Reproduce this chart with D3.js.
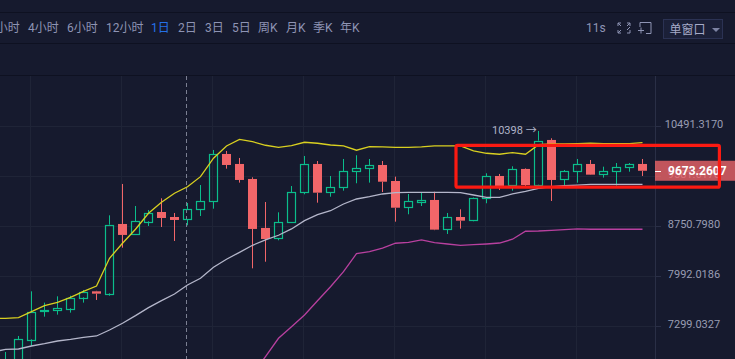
<!DOCTYPE html>
<html>
<head>
<meta charset="utf-8">
<script src="https://cdn.jsdelivr.net/npm/d3@7"></script>
<style>
  html, body { margin: 0; padding: 0; background: #161a2e; overflow: hidden; }
  svg { display: block; font-family: Roboto, "Noto Sans CJK SC", sans-serif; }
</style>
</head>
<body>
<div id="chart-area"></div>
<script>
// Toolbar labels
let tabLabels = ["1小时", "4小时", "6小时", "12小时", "1日", "2日", "3日", "5日", "周K", "月K", "季K", "年K"]
let activeTab = "1日"
let countdownLabel = "11s"
let windowLabel = "单窗口"

// Price axis
let priceTicks = [10491.3170, 9581.6170, 8750.7980, 7992.0186, 7299.0327]
let lastPrice = 9673.2607
let highPrice = 10398
let highLabel = "10398 →"

// Daily candles, the first one sits just off the left edge
let opens = [6700, 6714, 6850, 7125, 7494, 7511, 7538, 7689, 7773, 7745, 8783, 8621, 8826, 8976, 8895, 8858, 9020, 9145, 9972, 9793, 9530, 8720, 8552, 8804, 9296, 9793, 9302, 9387, 9664, 9710, 9775, 9495, 9053, 9145, 9174, 8699, 8895, 8836, 9202, 9582, 9421, 9705, 9431, 10229, 9518, 9664, 9793, 9612, 9664, 9740, 9793]
let highs = [6750, 6963, 7168, 7773, 7615, 7703, 7711, 7792, 7780, 8922, 9444, 9074, 9009, 9202, 8960, 9124, 9426, 10045, 10027, 9900, 9559, 9140, 8971, 9409, 9936, 9846, 9582, 9882, 9949, 9882, 9846, 9570, 9274, 9296, 9312, 8960, 9020, 9215, 9629, 9617, 9752, 9715, 10398, 10260, 9687, 9882, 9864, 9745, 9810, 9810, 9882]
let lows = [6600, 6666, 6800, 7039, 7424, 7451, 7478, 7615, 7652, 7711, 8413, 8610, 8751, 8735, 8516, 8762, 8911, 9030, 9710, 9467, 8104, 8202, 8527, 8800, 9269, 9129, 9228, 9330, 9456, 9467, 9307, 8820, 8939, 9074, 8685, 8625, 8709, 8826, 9119, 9341, 9330, 9409, 9425, 9157, 9414, 9467, 9600, 9553, 9414, 9657, 9582]
let closes = [6720, 6850, 7125, 7491, 7508, 7538, 7684, 7768, 7740, 8772, 8610, 8826, 8965, 8879, 8847, 9020, 9152, 9967, 9775, 9513, 8704, 8547, 8810, 9302, 9787, 9296, 9387, 9664, 9717, 9770, 9483, 9046, 9152, 9174, 8693, 8890, 8836, 9202, 9577, 9409, 9699, 9426, 10216, 9513, 9664, 9787, 9605, 9664, 9734, 9787, 9673]

// Bollinger bands
let upperBand = [7399, 7402, 7412, 7491, 7573, 7620, 7689, 7773, 7848, 8253, 8481, 8699, 8955, 9136, 9286, 9397, 9570, 9896, 10118, 10241, 10197, 10131, 10094, 10124, 10186, 10168, 10136, 10118, 10040, 10105, 10100, 10094, 10094, 10100, 10118, 10118, 10118, 10027, 9985, 9967, 9996, 9967, 10142, 10155, 10155, 10160, 10168, 10160, 10160, 10160, 10179]
let middleBand = [6963, 6995, 7001, 7039, 7069, 7103, 7125, 7151, 7168, 7246, 7335, 7437, 7546, 7642, 7735, 7862, 7959, 8119, 8238, 8343, 8450, 8532, 8605, 8704, 8836, 8932, 8997, 9107, 9190, 9228, 9274, 9296, 9302, 9302, 9302, 9302, 9296, 9257, 9218, 9218, 9274, 9319, 9370, 9397, 9414, 9426, 9438, 9438, 9438, 9438, 9438]
let lowerBand = [null, null, null, null, null, null, null, null, null, null, null, null, null, null, null, null, null, null, null, null, 6678, 6906, 7138, 7290, 7447, 7642, 7838, 8055, 8322, 8352, 8408, 8481, 8496, 8532, 8490, 8470, 8450, 8459, 8470, 8485, 8543, 8668, 8672, 8683, 8693, 8704, 8699, 8699, 8699, 8699, 8699]

// Which candle the dashed cross line and the vertical grid lines belong to
let crosshairIndex = 15
let gridIndexes = [3, 10, 17, 24, 31, 38, 45]

let width = 735
let height = 359
let axisX = 655

let colors = {
  bg: "#161a2e", divider: "#0e1121", grid: "#1f2437",
  up: "#0bbd8b", down: "#f26669",
  upper: "#d9d020", middle: "#b4b6ca", lower: "#b8409f",
  text: "#8e94b4", axisText: "#999db3", active: "#2571e8"
}

let svg = d3.select("#chart-area")
  .append("svg")
  .attr("width", width)
  .attr("height", height)

svg.append("rect").attr("width", width).attr("height", height).attr("fill", colors.bg)

// Scales
let x = d3.scaleLinear().domain([0, 50]).range([-7.5, 642.5])
let y = d3.scaleLog().domain([7299.0327, 10491.3170]).range([326, 126])
let snap = (v) => Math.round(v) + 0.5

//
// Toolbar
//
svg.selectAll(".divider")
  .data([12.5, 43.5, 75.5])
  .enter().append("line")
  .attr("class", "divider")
  .attr("x1", 0).attr("x2", width)
  .attr("y1", (d) => d).attr("y2", (d) => d)
  .attr("stroke", colors.divider)

let tabX = [-11, 28, 67, 106, 151, 178, 205, 232, 258, 286, 313, 340]
svg.selectAll(".tab")
  .data(tabLabels)
  .enter().append("text")
  .attr("class", "tab")
  .attr("x", (d, i) => tabX[i])
  .attr("y", 32)
  .attr("font-size", "12px")
  .attr("fill", (d) => d === activeTab ? colors.active : colors.text)
  .text((d) => d)

svg.append("text")
  .attr("x", 586).attr("y", 32)
  .attr("font-size", "12px")
  .attr("fill", colors.text)
  .text(countdownLabel)

// Fullscreen and screenshot icons
svg.append("path")
  .attr("d", "M618 23h3M618 23v3M630 23h-3M630 23v3M618 33h3M618 33v-3M630 33h-3M630 33v-3M621 26l-3-3M627 26l3-3M621 30l-3 3M627 30l3-3")
  .attr("fill", "none").attr("stroke", colors.text)
svg.append("path")
  .attr("d", "M640 27v-4.5h11v11h-5M638 30.5h6M641 27.5v6")
  .attr("fill", "none").attr("stroke", colors.text)

svg.append("rect")
  .attr("x", 663.5).attr("y", 19.5)
  .attr("width", 59).attr("height", 19)
  .attr("fill", "#1b2038").attr("stroke", "#2b3253")
svg.append("text")
  .attr("x", 669.5).attr("y", 34)
  .attr("font-size", "12px")
  .attr("fill", "#a6abc8")
  .text(windowLabel)
svg.append("path").attr("d", "M712 28h8l-4 4z").attr("fill", "#7d83a3")

//
// Grid
//
svg.selectAll(".grid-h")
  .data(priceTicks)
  .enter().append("line")
  .attr("class", "grid-h")
  .attr("x1", 0).attr("x2", axisX)
  .attr("y1", (d) => snap(y(d))).attr("y2", (d) => snap(y(d)))
  .attr("stroke", colors.grid)

svg.selectAll(".grid-v")
  .data(gridIndexes)
  .enter().append("line")
  .attr("class", "grid-v")
  .attr("x1", (d) => x(d) - 1).attr("x2", (d) => x(d) - 1)
  .attr("y1", 76).attr("y2", height)
  .attr("stroke", colors.grid)

svg.append("line")
  .attr("x1", x(crosshairIndex) - 1).attr("x2", x(crosshairIndex) - 1)
  .attr("y1", 76).attr("y2", height)
  .attr("stroke", "#7b7f92")
  .attr("stroke-dasharray", "4 3")

//
// Candles
//
let candles = opens.map((o, i) => {
  return { i: i, open: o, high: highs[i], low: lows[i], close: closes[i], up: closes[i] >= o }
})
let candleColor = (d) => d.up ? colors.up : colors.down

let candle = svg.selectAll(".candle")
  .data(candles)
  .enter().append("g")
  .attr("class", "candle")

candle.append("line")
  .attr("x1", (d) => x(d.i)).attr("x2", (d) => x(d.i))
  .attr("y1", (d) => y(d.high))
  .attr("y2", (d) => y(Math.max(d.open, d.close)))
  .attr("stroke", candleColor)
candle.append("line")
  .attr("x1", (d) => x(d.i)).attr("x2", (d) => x(d.i))
  .attr("y1", (d) => y(Math.min(d.open, d.close)))
  .attr("y2", (d) => y(d.low))
  .attr("stroke", candleColor)

// Up candles are hollow, down candles are filled
candle.filter((d) => d.up).append("rect")
  .attr("x", (d) => x(d.i) - 4)
  .attr("y", (d) => snap(y(d.close)))
  .attr("width", 8)
  .attr("height", (d) => Math.max(1, Math.round(y(d.open) - y(d.close))))
  .attr("fill", "none")
  .attr("stroke", colors.up)
  .attr("stroke-width", 1.2)
candle.filter((d) => !d.up).append("rect")
  .attr("x", (d) => x(d.i) - 4.5)
  .attr("y", (d) => y(d.open))
  .attr("width", 9)
  .attr("height", (d) => Math.max(2, y(d.close) - y(d.open)))
  .attr("fill", colors.down)

//
// Bands
//
let bandLine = d3.line()
  .defined((d) => d !== null)
  .x((d, i) => x(i))
  .y((d) => y(d))

let bands = [
  { values: upperBand, color: colors.upper },
  { values: middleBand, color: colors.middle },
  { values: lowerBand, color: colors.lower }
]
svg.selectAll(".band")
  .data(bands)
  .enter().append("path")
  .attr("class", "band")
  .attr("d", (d) => bandLine(d.values))
  .attr("fill", "none")
  .attr("stroke", (d) => d.color)
  .attr("stroke-width", 1.3)

// High marker
svg.append("text")
  .attr("x", x(42) - 46.5).attr("y", y(highPrice) + 3)
  .attr("font-size", "11px")
  .attr("fill", "#b0b4c8")
  .text(highLabel)

//
// Price axis
//
svg.append("line")
  .attr("x1", axisX + 0.5).attr("x2", axisX + 0.5)
  .attr("y1", 76).attr("y2", height)
  .attr("stroke", "#2a2f46")

let yAxisCall = d3.axisRight(y)
  .tickValues(priceTicks)
  .tickFormat((d) => d.toFixed(4))
  .tickSize(6)
let yAxisGroup = svg.append("g")
  .attr("transform", `translate(${axisX}, 0)`)
  .call(yAxisCall)
yAxisGroup.select(".domain").remove()
yAxisGroup.selectAll("line").attr("stroke", "#2a2f46")
yAxisGroup.selectAll("text")
  .attr("x", 39)
  .attr("dy", "0.1em")
  .attr("text-anchor", "middle")
  .attr("font-family", "Roboto")
  .attr("font-size", "11px")
  .attr("fill", colors.axisText)

// Last price tag
svg.append("rect")
  .attr("x", axisX).attr("y", y(lastPrice) - 10)
  .attr("width", width - axisX).attr("height", 20)
  .attr("fill", colors.down).attr("opacity", 0.78)
svg.append("line")
  .attr("x1", axisX).attr("x2", axisX + 6)
  .attr("y1", snap(y(lastPrice))).attr("y2", snap(y(lastPrice)))
  .attr("stroke", "#fff")
svg.append("text")
  .attr("x", 668).attr("y", y(lastPrice) + 4)
  .attr("font-size", "12px")
  .attr("font-weight", 700)
  .attr("fill", "#fff")
  .text(lastPrice.toFixed(4))

// Red annotation box drawn over the screenshot
svg.append("rect")
  .attr("x", 456).attr("y", 145.4)
  .attr("width", 263.4).attr("height", 41.8)
  .attr("rx", 1.5)
  .attr("fill", "none")
  .attr("stroke", "#fb1a12")
  .attr("stroke-width", 3.2)
</script>
</body>
</html>
